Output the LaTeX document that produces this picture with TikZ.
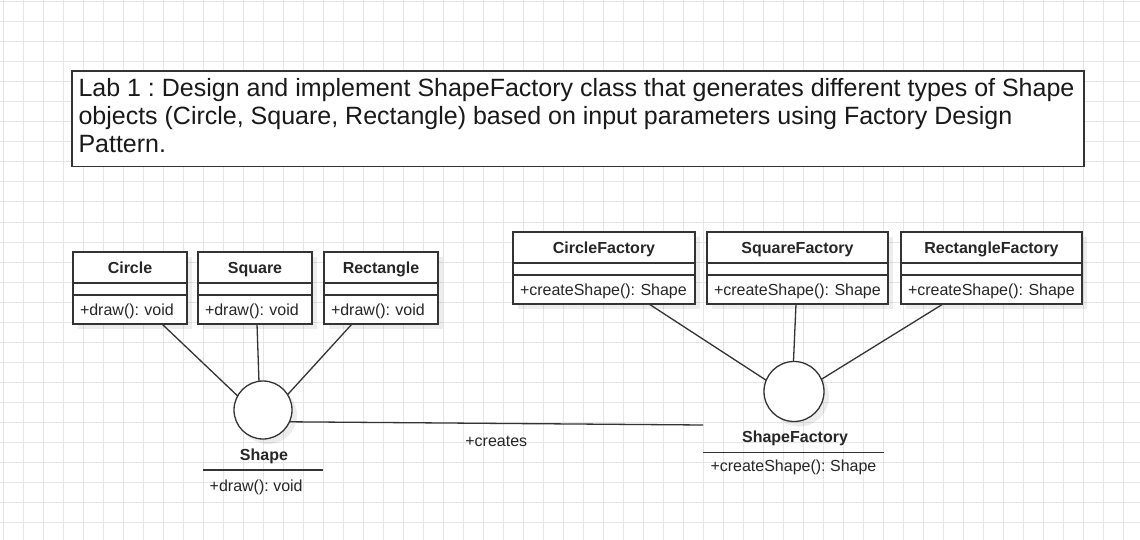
\documentclass[tikz,border=0pt]{standalone}
\usepackage{fontspec}
\setmainfont{Liberation Sans}
\frenchspacing
\tikzset{
  ink/.style={draw=black!80, line width=1.3pt},
  txt/.style={font=\fontsize{16}{19}\selectfont, text=black!85},
  btxt/.style={font=\fontsize{16}{19}\selectfont\bfseries, text=black!85},
  hdr/.style={ink, btxt, fill=white, outer sep=0pt, inner sep=0pt, minimum height=31pt, text height=11.6pt, text depth=0pt},
  attr/.style={ink, fill=white, outer sep=0pt, inner sep=0pt, minimum height=12pt},
  meth/.style={ink, txt, fill=white, outer sep=0pt, inner xsep=7pt, inner ysep=0pt, minimum height=29pt, align=left, text height=11.6pt, text depth=0pt},
  conn/.style={draw=black!80, line width=1.3pt},
  shadowc/.style={fill=black, fill opacity=0.07},
  gridline/.style={draw=black!10, line width=1pt},
  lollipop/.style={ink, circle, fill=white, inner sep=0pt, outer sep=0pt},
}
\newcommand\umlclass[7]{%
  \fill[shadowc] (#2+5,#3+5) rectangle (#2+#4+5,#3+77);
  \node[hdr, minimum width=#4, anchor=north west] (#1) at (#2,#3) {#5};
  \node[attr, minimum width=#4, anchor=north west] (#1-a) at (#1.south west) {};
  \node[meth, text width=#7, anchor=north west] (#1-m) at (#1-a.south west) {\mbox{#6}};
}
\begin{document}
\frenchspacing
\begin{tikzpicture}[x=1pt, y=-1pt]
\useasboundingbox (0,0) rectangle (1140,540);
\fill[white] (0,0) rectangle (1140,540);
\begin{scope}
  \clip (0,0) rectangle (1140,540);
  \draw[gridline, xshift=3pt, yshift=-2pt] (-40,-40) grid[step=20pt] (1160,560);
\end{scope}

% title
\node[ink, fill=white, minimum width=1012, minimum height=95.5, anchor=north west, outer sep=0pt, inner sep=0pt] (title) at (72,71) {};
\node[anchor=north west, inner sep=0pt, align=left, font=\fontsize{25}{28}\selectfont, text=black!90] (titletext) at ([xshift=6.3pt, yshift=-6.8pt]title.north west)
  {Lab 1 : Design and implement ShapeFactory class that generates different types of Shape\\objects (Circle, Square, Rectangle) based on input parameters using Factory Design\\Pattern.};

% classes
\umlclass{circ}{73}{252}{114}{Circle}{+draw(): void}{100pt}
\umlclass{squ}{198}{252}{114}{Square}{+draw(): void}{100pt}
\umlclass{rect}{324}{252}{114}{Rectangle}{+draw(): void}{100pt}
\umlclass{cfac}{513}{232}{182}{CircleFactory}{+createShape(): Shape}{168pt}
\umlclass{sfac}{707}{232}{181}{SquareFactory}{+createShape(): Shape}{167pt}
\umlclass{rfac}{901}{232}{181}{RectangleFactory}{+createShape(): Shape}{167pt}

% interfaces
\fill[shadowc] (268,415) circle[radius=29];
\node[lollipop, minimum size=58] (shape) at (263,410) {};
\fill[shadowc] (799,396.5) circle[radius=30];
\node[lollipop, minimum size=60] (sfact) at (794,391.5) {};

% connectors
\draw[conn] ([xshift=32pt]circ-m.south) -- (shape.151);
\draw[conn] ([xshift=2pt]squ-m.south) -- (shape.98);
\draw[conn] ([xshift=-29pt]rect-m.south) -- (shape.32);
\draw[conn] ([xshift=45pt]cfac-m.south) -- (sfact.158);
\draw[conn] ([xshift=-1.5pt]sfac-m.south) -- (sfact.91);
\draw[conn] ([xshift=-48.5pt]rfac-m.south) -- (sfact.24);

% Shape label
\node[btxt, anchor=base, inner sep=0pt] (shapename) at (264,460) {Shape};
\draw[ink] (203,470) -- (323,470);
\node[txt, anchor=base west, inner sep=0pt] (shapemeth) at (209.5,491) {+draw(): void};

% ShapeFactory label
\node[btxt, anchor=base, inner sep=0pt] (sfname) at (795,442.7) {ShapeFactory};
\draw[ink] (703,452.3) -- (884,452.3);
\node[txt, anchor=base west, inner sep=0pt] (sfmeth) at (710.3,471.5) {+createShape(): Shape};

% creates
\coordinate (sfcorner) at (703,425);
\draw[conn] (shape.-24) -- node[txt, midway, anchor=base, inner sep=0pt, yshift=-23pt] (creates) {+creates} (sfcorner);
\end{tikzpicture}
\end{document}
